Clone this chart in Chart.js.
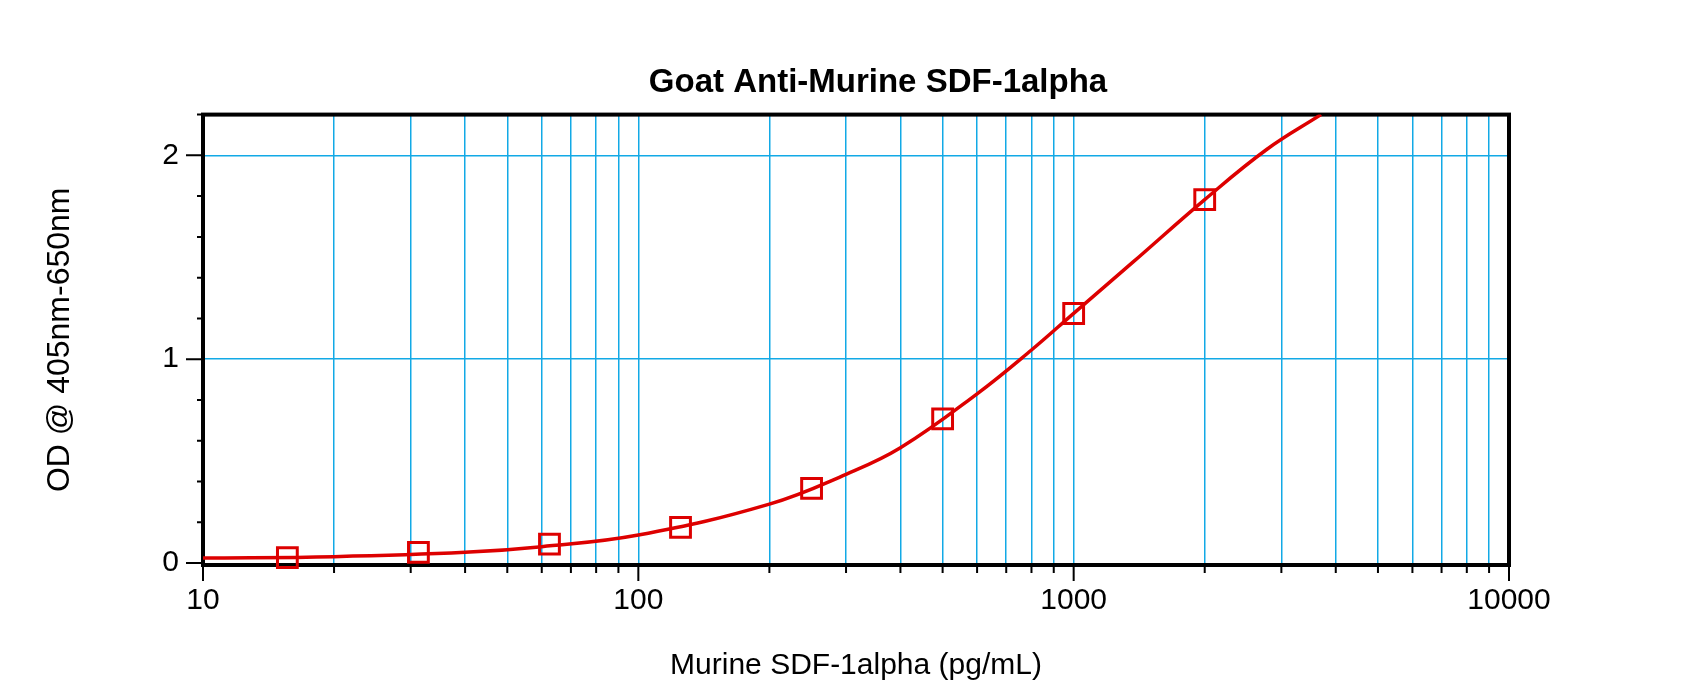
<!DOCTYPE html>
<html>
<head>
<meta charset="utf-8">
<script src="https://cdn.jsdelivr.net/npm/chart.js@4/dist/chart.umd.min.js"></script>
<style>
  html, body { margin: 0; padding: 0; background: #fff; }
  canvas { display: block; }
</style>
</head>
<body>
<canvas id="odChart" width="1700" height="698"></canvas>
<script>
// standards (pg/mL) and their OD readings
const concentrations = [15.625, 31.25, 62.5, 125, 250, 500, 1000, 2000];
const odValues = [0.026, 0.052, 0.092, 0.175, 0.366, 0.707, 1.224, 1.783];

// fitted curve, points
const curveX = [10, 20, 40, 60, 100, 200, 300, 400, 600, 800, 1000, 1370, 2000, 2780, 3700];
const curveY = [0.024, 0.031, 0.052, 0.08, 0.137, 0.289, 0.435, 0.565, 0.83, 1.045, 1.225, 1.477, 1.783, 2.03, 2.2];

// axis ticks
const xDecades = [10, 100, 1000, 10000];
const yLabels = [0, 1, 2];
const yMinorCount = 11; // 0.2 steps up to 2.2

const red = '#dd0000';
const gridBlue = '#12a9e6';
const fontFamily = "'Liberation Sans', Arial, sans-serif";

Chart.defaults.font.family = fontFamily;
Chart.defaults.color = '#000';

// black frame round the plot + the tick marks (long major, short minor)
const frameAndTicks = {
  id: 'frameAndTicks',
  beforeDatasetsDraw(chart) {
    const {ctx, chartArea, scales} = chart;
    ctx.save();
    ctx.strokeStyle = '#000';
    ctx.lineWidth = 2;
    ctx.beginPath();
    scales.x.ticks.forEach(function(t) {
      const px = scales.x.getPixelForValue(t.value);
      const len = xDecades.indexOf(t.value) >= 0 ? 16 : 8;
      ctx.moveTo(px, chartArea.bottom);
      ctx.lineTo(px, chartArea.bottom + len);
    });
    scales.y.ticks.forEach(function(t) {
      const py = scales.y.getPixelForValue(t.value);
      const len = yLabels.indexOf(t.value) >= 0 ? 17 : 6;
      ctx.moveTo(chartArea.left, py);
      ctx.lineTo(chartArea.left - len, py);
    });
    ctx.stroke();
    ctx.lineWidth = 4;
    ctx.strokeRect(chartArea.left, chartArea.top, chartArea.width, chartArea.height);
    ctx.restore();
  }
};

const chart = new Chart(document.getElementById('odChart'), {
  type: 'scatter',
  data: {
    datasets: [
      {
        label: 'Standards',
        data: concentrations.map(function(c, i) { return {x: c, y: odValues[i]}; }),
        pointStyle: 'rect',
        pointRadius: 14,
        pointBorderWidth: 3,
        borderColor: red,
        backgroundColor: 'transparent',
        clip: false
      },
      {
        type: 'line',
        label: 'Fit',
        data: curveX.map(function(c, i) { return {x: c, y: curveY[i]}; }),
        borderColor: red,
        borderWidth: 3.5,
        pointRadius: 0,
        tension: 0.4,
        fill: false
      }
    ]
  },
  options: {
    responsive: false,
    animation: false,
    layout: { padding: {left: 56, right: 0, top: 0, bottom: 0} },
    plugins: {
      legend: { display: false },
      tooltip: { enabled: false },
      title: {
        display: true,
        text: 'Goat Anti-Murine SDF-1alpha',
        color: '#000',
        font: { size: 33, weight: 'bold' },
        padding: { top: 63, bottom: 12 }
      }
    },
    scales: {
      x: {
        type: 'logarithmic',
        position: 'bottom',
        min: 10,
        max: 10000,
        afterBuildTicks: function(scale) {
          const t = [];
          xDecades.forEach(function(d, i) {
            if (i === xDecades.length - 1) { t.push({value: d}); return; }
            for (let m = 1; m < 10; m++) t.push({value: d * m});
          });
          scale.ticks = t;
        },
        afterFit: function(scale) { scale.height = 133; },
        grid: {
          color: gridBlue,
          lineWidth: 1.5,
          drawTicks: false
        },
        border: { display: false },
        ticks: {
          autoSkip: false,
          maxRotation: 0,
          padding: 18,
          font: { size: 30 },
          callback: function(v) { return xDecades.indexOf(v) >= 0 ? String(v) : ''; }
        },
        title: {
          display: true,
          text: 'Murine SDF-1alpha (pg/mL)',
          font: { size: 30 },
          padding: { top: 0, bottom: 14 }
        }
      },
      y: {
        type: 'linear',
        position: 'left',
        min: -0.01,
        max: 2.2,
        afterBuildTicks: function(scale) {
          const t = [];
          for (let k = 0; k <= yMinorCount; k++) t.push({value: Math.round(k * 2) / 10});
          scale.ticks = t;
        },
        afterFit: function(scale) { scale.width = 147; },
        grid: {
          color: function(c) {
            return (c.tick && c.tick.value > 0 && yLabels.indexOf(c.tick.value) >= 0) ? gridBlue : 'transparent';
          },
          lineWidth: 1.5,
          drawTicks: false
        },
        border: { display: false },
        ticks: {
          autoSkip: false,
          padding: 24,
          font: { size: 30 },
          callback: function(v) { return yLabels.indexOf(v) >= 0 ? String(v) : ''; }
        },
        title: {
          display: true,
          text: 'OD @ 405nm-650nm',
          font: { size: 32 },
          padding: { top: -15.2, bottom: 0 }
        }
      },
      yRight: {
        type: 'linear',
        position: 'right',
        display: true,
        afterFit: function(scale) { scale.width = 191; },
        grid: { display: false, drawTicks: false },
        border: { display: false },
        ticks: { display: false }
      }
    }
  },
  plugins: [frameAndTicks]
});
</script>
</body>
</html>
